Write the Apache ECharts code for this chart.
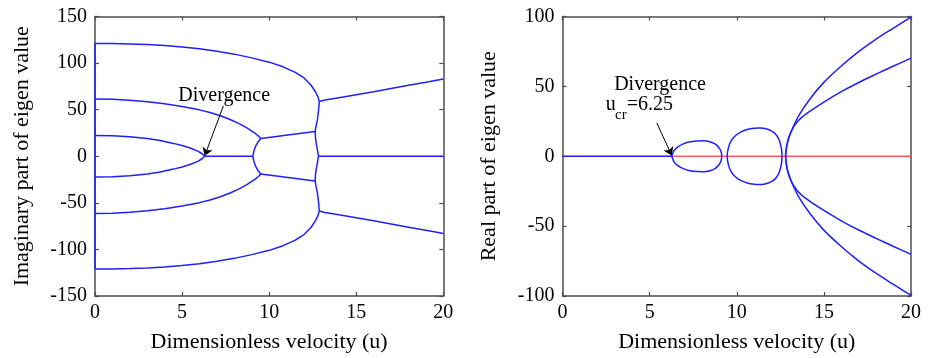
<!DOCTYPE html>
<html><head><meta charset="utf-8">
<script src="https://cdn.jsdelivr.net/npm/echarts@6/dist/echarts.min.js"></script>
<style>html,body{margin:0;padding:0;background:#fff}#c{width:933px;height:358px}</style>
</head><body><div id="c"></div>
<script>
// ---------- tick definitions ----------
const xTicks = [0, 5, 10, 15, 20];
const imagTicks = [-150, -100, -50, 0, 50, 100, 150];
const realTicks = [-100, -50, 0, 50, 100];

// ---------- left panel: imaginary part of eigen value ----------
const imEdge = [[0, 121], [0, -121]];
const imTopUpper = [[0,121],[1,121],[2,120.6],[3,119.9],[4,118.8],[5,117.3],[6,115.3],[7,112.8],[8,109.6],[9,105.6],[10,101],[10.8,96],[11.5,90],[12,84],[12.4,76.5],[12.65,69.5],[12.8,64],[12.88,58.8]];
const imTopLower = [[0,-121],[1,-121],[2,-120.6],[3,-119.9],[4,-118.8],[5,-117.3],[6,-115.3],[7,-112.8],[8,-109.6],[9,-105.6],[10,-101],[10.8,-96],[11.5,-90],[12,-84],[12.4,-76.5],[12.65,-69.5],[12.8,-64],[12.88,-58.8]];
const imRightUpper = [[12.88,58.8],[13.2,60.4],[14,62.9],[15,66],[16,69.3],[17,72.7],[18,76.1],[19,79.5],[20,83]];
const imRightLower = [[12.88,-58.8],[13.2,-60.4],[14,-62.9],[15,-66],[16,-69.3],[17,-72.7],[18,-76.1],[19,-79.5],[20,-83]];
const imSecondUpper = [[0,61.5],[1,61.1],[2,60.1],[3,58.5],[4,56.3],[5,53.5],[6,49.8],[6.6,47],[7.2,43.5],[7.76,39.5],[8.3,34.8],[8.72,30.4],[9,27],[9.2,24.5],[9.4,21.5],[9.52,19]];
const imSecondLower = [[0,-61.5],[1,-61.1],[2,-60.1],[3,-58.5],[4,-56.3],[5,-53.5],[6,-49.8],[6.6,-47],[7.2,-43.5],[7.76,-39.5],[8.3,-34.8],[8.72,-30.4],[9,-27],[9.2,-24.5],[9.4,-21.5],[9.52,-19]];
const imThirdUpper = [[0,22.3],[1,22],[2,21],[3,19],[3.74,16.8],[4.5,13.8],[5,11.5],[5.5,8.6],[5.9,5.5],[6.15,2.7],[6.3,0]];
const imThirdLower = [[0,-22.3],[1,-22],[2,-21],[3,-19],[3.74,-16.8],[4.5,-13.8],[5,-11.5],[5.5,-8.6],[5.9,-5.5],[6.15,-2.7],[6.3,0]];
const imZeroA = [[6.3,0],[9.06,0]];
const imZeroB = [[12.83,0],[20,0]];
const imLinkUpper = [[9.06,0],[9.12,5],[9.2,10],[9.35,15],[9.52,19]];
const imLinkLower = [[9.06,0],[9.12,-5],[9.2,-10],[9.35,-15],[9.52,-19]];
const imMidUpper = [[9.52,19],[12.64,26.5]];
const imMidLower = [[9.52,-19],[12.64,-26.5]];
const imVertUpper = [[12.88,58.8],[12.84,50],[12.77,39.3],[12.68,31],[12.64,26.5],[12.66,20],[12.7,14],[12.77,7],[12.83,0]];
const imVertLower = [[12.88,-58.8],[12.84,-50],[12.77,-39.3],[12.68,-31],[12.64,-26.5],[12.66,-20],[12.7,-14],[12.77,-7],[12.83,0]];

// ---------- right panel: real part of eigen value ----------
const reBlueZero = [[0,0],[6.27,0]];
const reRedZero = [[6.27,0],[20,0]];
const reLoop1 = [[6.27,0],[6.4,4],[6.6,6.5],[6.9,8.7],[7.3,10.3],[7.7,11],[8.1,11.1],[8.45,10.4],[8.75,8.8],[8.97,6.3],[9.1,3.3],[9.14,0],
                 [9.1,-3.3],[8.97,-6.3],[8.75,-8.8],[8.45,-10.4],[8.1,-11.1],[7.7,-11],[7.3,-10.3],[6.9,-8.7],[6.6,-6.5],[6.4,-4],[6.27,0]];
const reLoop2 = [[12.6,0],[12.58,4],[12.52,8],[12.42,12],[12.28,15],[12.1,17.3],[11.85,19],[11.55,20],[11.3,20.3],[11,20.1],[10.6,19.2],[10.25,17.5],[9.95,15],[9.7,11.5],[9.53,6.5],[9.45,0],
                 [9.53,-6.5],[9.7,-11.5],[9.95,-15],[10.25,-17.5],[10.6,-19.2],[11,-20.1],[11.3,-20.3],[11.55,-20],[11.85,-19],[12.1,-17.3],[12.28,-15],[12.42,-12],[12.52,-8],[12.58,-4],[12.6,0]];
const reOuterUpper = [[12.8,0],[12.85,6],[12.98,13],[13.2,20],[13.6,30],[14.2,41],[14.97,52.5],[15.9,63.5],[16.9,74],[17.9,83],[18.9,91],[20,99.5]];
const reInnerUpper = [[12.8,0],[12.85,6],[12.98,13],[13.2,19.5],[13.5,25],[14,30.5],[15,38.8],[16,46.2],[17,52.8],[18,58.8],[19,64.6],[20,70.2]];
const reOuterLower = [[12.8,0],[12.85,-6],[12.98,-13],[13.2,-20],[13.6,-30],[14.2,-41],[14.97,-52.5],[15.9,-63.5],[16.9,-74],[17.9,-83],[18.9,-91],[20,-99.5]];
const reInnerLower = [[12.8,0],[12.85,-6],[12.98,-13],[13.2,-19.5],[13.5,-25],[14,-30.5],[15,-38.8],[16,-46.2],[17,-52.8],[18,-58.8],[19,-64.6],[20,-70.2]];

// ---------- annotations (data coordinates) ----------
const leftArrow = [[7.37, 54], [6.3, 0.5]];
const leftText = [7.42, 64.5];
const rightArrow = [[5.41, 23.9], [6.27, 0.5]];
const rightTextDiv = [5.6, 51];
const rightTextU = [2.77, 36.5];
const rightTextCr = [3.35, 29.4];
const rightTextVal = [5.02, 36.5];

// ---------- styling ----------
const FONT = 'Liberation Serif';
const BLUE = '#1f1fff';
const RED = '#ff5a5a';
const AX = '#4d4d4d';

function mkX(grid, pos, labels) {
  return {
    type: 'value', gridIndex: grid, position: pos,
    min: xTicks[0], max: xTicks[xTicks.length - 1], interval: xTicks[1] - xTicks[0],
    axisLine: { show: true, onZero: false, lineStyle: { color: AX, width: 1.5 } },
    axisTick: { show: true, inside: true, length: 4, lineStyle: { color: AX, width: 1.2 } },
    axisLabel: { show: labels, color: '#000', fontFamily: FONT, fontSize: 20, margin: 7 },
    splitLine: { show: false },
    name: labels ? 'Dimensionless velocity (u)' : '',
    nameLocation: 'middle', nameGap: 35,
    nameTextStyle: { color: '#000', fontFamily: FONT, fontSize: 22 }
  };
}
function mkY(grid, pos, labels, ticks, name, gap) {
  return {
    type: 'value', gridIndex: grid, position: pos,
    min: ticks[0], max: ticks[ticks.length - 1], interval: ticks[1] - ticks[0],
    axisLine: { show: true, onZero: false, lineStyle: { color: AX, width: 1.5 } },
    axisTick: { show: true, inside: true, length: 4, lineStyle: { color: AX, width: 1.2 } },
    axisLabel: { show: labels, color: '#000', fontFamily: FONT, fontSize: 20, margin: 8 },
    splitLine: { show: false },
    name: labels ? name : '',
    nameLocation: 'middle', nameGap: gap, nameRotate: 90,
    nameTextStyle: { color: '#000', fontFamily: FONT, fontSize: 22 }
  };
}
function line(data, xi, yi, color, extra) {
  return Object.assign({
    type: 'line', data: data, xAxisIndex: xi, yAxisIndex: yi,
    showSymbol: false, symbol: 'none', smooth: false, silent: true,
    lineStyle: { color: color, width: 1.5 }, itemStyle: { color: color },
    emphasis: { disabled: true }, z: 3
  }, extra || {});
}
function textPoint(coord, text, size) {
  return {
    coord: coord, symbol: 'rect', symbolSize: 1, itemStyle: { color: 'rgba(0,0,0,0)' },
    label: { show: true, position: 'inside', formatter: text, color: '#000', fontFamily: FONT, fontSize: size }
  };
}
function arrow(pts) {
  return {
    silent: true, symbol: ['none', 'arrow'], symbolSize: 8, animation: false,
    label: { show: false }, lineStyle: { color: '#000', width: 1, type: 'solid' },
    emphasis: { disabled: true },
    data: [[{ coord: pts[0] }, { coord: pts[1] }]]
  };
}

const series = [];
[imEdge, imZeroB, imMidUpper, imMidLower, imRightUpper, imRightLower,
 imTopUpper, imTopLower, imSecondUpper, imSecondLower, imThirdUpper, imThirdLower,
 imLinkUpper, imLinkLower, imVertUpper, imVertLower].forEach(d => series.push(line(d, 0, 0, BLUE)));
series.push(line(imZeroA, 0, 0, BLUE, {
  markLine: arrow(leftArrow),
  markPoint: { silent: true, animation: false, data: [textPoint(leftText, 'Divergence', 20)] }
}));
series.push(line(reRedZero, 2, 2, RED, { z: 2 }));
[reLoop1, reLoop2].forEach(d => series.push(line(d, 2, 2, BLUE, { smooth: 0.2 })));
[reOuterUpper, reInnerUpper, reOuterLower, reInnerLower].forEach(d => series.push(line(d, 2, 2, BLUE, { smooth: 0.3 })));
series.push(line(reBlueZero, 2, 2, BLUE, {
  markLine: arrow(rightArrow),
  markPoint: { silent: true, animation: false, data: [
    textPoint(rightTextDiv, 'Divergence', 20),
    textPoint(rightTextU, 'u', 20),
    textPoint(rightTextCr, 'cr', 15),
    textPoint(rightTextVal, '=6.25', 20)
  ] }
}));

const chart = echarts.init(document.getElementById('c'), null, { renderer: 'canvas' });
chart.setOption({
  animation: false,
  backgroundColor: '#fff',
  grid: [
    { left: 95, top: 16.5, width: 348.3, height: 279.5, containLabel: false },
    { left: 562.5, top: 16.5, width: 348.5, height: 279.5, containLabel: false }
  ],
  xAxis: [mkX(0, 'bottom', true), mkX(0, 'top', false), mkX(1, 'bottom', true), mkX(1, 'top', false)],
  yAxis: [
    mkY(0, 'left', true, imagTicks, 'Imaginary part of eigen value', 62),
    mkY(0, 'right', false, imagTicks, '', 0),
    mkY(1, 'left', true, realTicks, 'Real part of eigen value', 62.5),
    mkY(1, 'right', false, realTicks, '', 0)
  ],
  series: series
});
</script>
</body></html>
